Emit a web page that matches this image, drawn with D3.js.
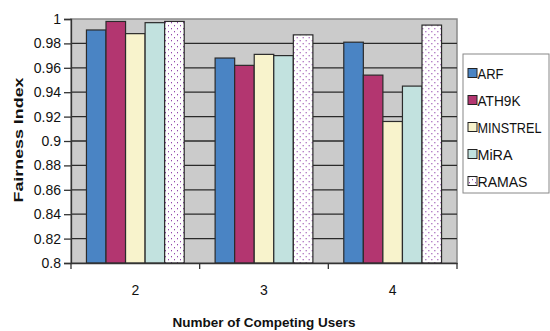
<!DOCTYPE html>
<html>
<head>
<meta charset="utf-8">
<script src="https://cdn.jsdelivr.net/npm/d3@7"></script>
<style>
  body { margin: 0; background: #fff; }
  svg { display: block; font-family: "Liberation Sans", Arial, sans-serif; }
</style>
</head>
<body>
<div id="chart"></div>
<script>
// categories (number of competing users)
const categories = ["2", "3", "4"];
const series = ["ARF", "ATH9K", "MINSTREL", "MiRA", "RAMAS"];

// fairness index per series, one entry per category
const arf      = [0.991, 0.968, 0.981];
const ath9k    = [0.998, 0.962, 0.954];
const minstrel = [0.988, 0.971, 0.916];
const mira     = [0.997, 0.970, 0.945];
const ramas    = [0.998, 0.987, 0.995];

const yTicks = [0.8, 0.82, 0.84, 0.86, 0.88, 0.9, 0.92, 0.94, 0.96, 0.98, 1];

const values = [arf, ath9k, minstrel, mira, ramas];
const colors = ["#4a84c4", "#b33670", "#f8f3cc", "#c2e2df", "url(#dots)"];

const width = 550, height = 331;
const margin = { left: 71, right: 93, top: 19, bottom: 68 };

const svg = d3.select("#chart").append("svg")
  .attr("width", width)
  .attr("height", height);

// dotted pattern for RAMAS
const pat = svg.append("defs").append("pattern")
  .attr("id", "dots")
  .attr("patternUnits", "userSpaceOnUse")
  .attr("width", 6)
  .attr("height", 6);
pat.append("rect").attr("width", 6).attr("height", 6).attr("fill", "#fff");
pat.append("rect").attr("x", 1).attr("y", 1).attr("width", 1).attr("height", 1.3).attr("fill", "#9448ad");
pat.append("rect").attr("x", 4).attr("y", 4).attr("width", 1).attr("height", 1.3).attr("fill", "#9448ad");

const x0 = d3.scaleBand()
  .domain(categories)
  .range([margin.left, width - margin.right])
  .paddingInner(0)
  .paddingOuter(0);

const x1 = d3.scaleBand()
  .domain(series)
  .range([0, x0.bandwidth()])
  .paddingOuter(0.79)
  .paddingInner(0);

const y = d3.scaleLinear()
  .domain([0.8, 1])
  .range([height - margin.bottom, margin.top]);

// plot background
svg.append("rect")
  .attr("x", margin.left)
  .attr("y", margin.top)
  .attr("width", width - margin.left - margin.right)
  .attr("height", height - margin.top - margin.bottom)
  .attr("fill", "#cbcbcb")
  .attr("stroke", "#8a8a8a")
  .attr("stroke-width", 1.5);

// grid lines
svg.append("g")
  .selectAll("line")
  .data(yTicks.slice(1, -1))
  .enter().append("line")
  .attr("x1", margin.left)
  .attr("x2", width - margin.right)
  .attr("y1", d => y(d))
  .attr("y2", d => y(d))
  .attr("stroke", "#2a2a2a")
  .attr("stroke-width", 1.3);

// bars
const groups = svg.append("g")
  .selectAll("g")
  .data(categories)
  .enter().append("g")
  .attr("transform", d => `translate(${x0(d)},0)`);

groups.selectAll("rect")
  .data((c, ci) => series.map((s, si) => ({ s, si, v: values[si][ci] })))
  .enter().append("rect")
  .attr("x", d => x1(d.s))
  .attr("width", x1.bandwidth())
  .attr("y", d => y(d.v))
  .attr("height", d => y(0.8) - y(d.v))
  .attr("fill", d => colors[d.si])
  .attr("stroke", "#2b2b2b")
  .attr("stroke-width", 1.2);

// y axis
const yAxis = svg.append("g")
  .attr("transform", `translate(${margin.left},0)`)
  .call(d3.axisLeft(y).tickValues(yTicks).tickSize(7).tickPadding(3)
    .tickFormat(d => d3.format("")(+d.toFixed(2))));
yAxis.select(".domain").attr("stroke", "#333").attr("stroke-width", 1.3);
yAxis.selectAll(".tick line").attr("stroke", "#333").attr("stroke-width", 1.3);
yAxis.selectAll("text").attr("font-size", 14).attr("fill", "#111")
  .attr("font-family", "'Liberation Sans', Arial, sans-serif");

// x axis
const xAxis = svg.append("g")
  .attr("transform", `translate(0,${height - margin.bottom})`)
  .call(d3.axisBottom(x0).tickSize(0).tickPadding(22));
xAxis.select(".domain").attr("stroke", "#333").attr("stroke-width", 1.3);
xAxis.selectAll("text").attr("font-size", 14).attr("fill", "#111")
  .attr("font-family", "'Liberation Sans', Arial, sans-serif");

// boundary ticks between categories
svg.append("g")
  .selectAll("line")
  .data(categories.concat(["end"]))
  .enter().append("line")
  .attr("x1", (d, i) => i < categories.length ? x0(d) : x0(categories[i - 1]) + x0.bandwidth())
  .attr("x2", (d, i) => i < categories.length ? x0(d) : x0(categories[i - 1]) + x0.bandwidth())
  .attr("y1", height - margin.bottom)
  .attr("y2", height - margin.bottom + 6)
  .attr("stroke", "#333")
  .attr("stroke-width", 1.3);

// axis titles
svg.append("text")
  .attr("x", 264)
  .attr("y", 327)
  .attr("text-anchor", "middle")
  .attr("font-size", 13.5)
  .attr("font-weight", "bold")
  .attr("fill", "#111")
  .attr("textLength", 183)
  .attr("lengthAdjust", "spacingAndGlyphs")
  .text("Number of Competing Users");

svg.append("text")
  .attr("transform", "translate(23,140) rotate(-90)")
  .attr("text-anchor", "middle")
  .attr("font-size", 13.5)
  .attr("font-weight", "bold")
  .attr("fill", "#111")
  .attr("textLength", 125)
  .attr("lengthAdjust", "spacingAndGlyphs")
  .text("Fairness Index");

// legend
const legend = svg.append("g");
legend.append("rect")
  .attr("x", 463)
  .attr("y", 54)
  .attr("width", 86)
  .attr("height", 139)
  .attr("fill", "#fff")
  .attr("stroke", "#888")
  .attr("stroke-width", 1);

const items = legend.selectAll("g")
  .data(series)
  .enter().append("g")
  .attr("transform", (d, i) => `translate(468,${73 + i * 27})`);

items.append("rect")
  .attr("x", 0)
  .attr("y", -4.5)
  .attr("width", 9)
  .attr("height", 9)
  .attr("fill", (d, i) => colors[i])
  .attr("stroke", "#222")
  .attr("stroke-width", 1);

items.append("text")
  .attr("x", 9.5)
  .attr("y", 5.5)
  .attr("font-size", 14.5)
  .attr("fill", "#111")
  .attr("textLength", d => ({ ARF: 26, ATH9K: 43, MINSTREL: 64, MiRA: 35, RAMAS: 50 })[d])
  .attr("lengthAdjust", "spacingAndGlyphs")
  .text(d => d);
</script>
</body>
</html>
